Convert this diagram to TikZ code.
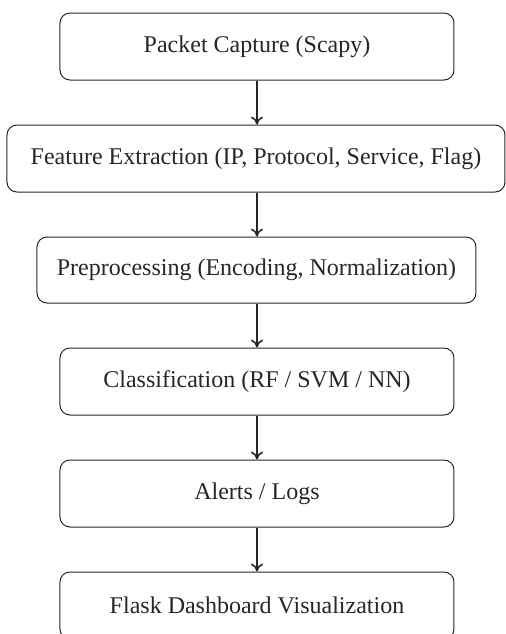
\documentclass[tikz,border=0pt]{standalone}
\usepackage{fontspec}
\setmainfont{Liberation Serif}
\usetikzlibrary{arrows.meta, positioning}

\tikzset{
    stage/.style={draw=black!85, rounded corners=5pt, line width=0.5pt,
        minimum width=197pt, minimum height=33.5pt, inner sep=0pt,
        font=\fontsize{12}{14}\selectfont, text=black!85},
    flow/.style={-{To[length=4pt,width=6pt]}, line width=0.8pt, black!85}
}

\begin{document}
\begin{tikzpicture}[x=0.5pt, y=-0.5pt]
        \useasboundingbox (0,0) rectangle (506,634);
        \node[stage] (capture) at (257, 46.5) {Packet Capture (Scapy)};
        \node[stage, minimum width=249pt] (features) at (256, 158.5) {Feature Extraction (IP, Protocol, Service, Flag)};
        \node[stage, minimum width=219.5pt, minimum height=33pt] (prep) at (256.5, 270) {Preprocessing (Encoding, Normalization)};
        \node[stage] (classify) at (257, 381.5) {Classification (RF / SVM / NN)};
        \node[stage] (alerts) at (257, 493.5) {Alerts / Logs};
        \node[stage] (dashboard) at (257, 605.5) {Flask Dashboard Visualization};
        
        \draw[flow] (capture.south) -- (capture.south |- features.north);
        \draw[flow] (capture.south |- features.south) -- (capture.south |- prep.north);
        \draw[flow] (capture.south |- prep.south) -- (classify.north);
        \draw[flow] (classify) -- (alerts);
        \draw[flow] (alerts) -- (dashboard);
    \end{tikzpicture}
\end{document}
